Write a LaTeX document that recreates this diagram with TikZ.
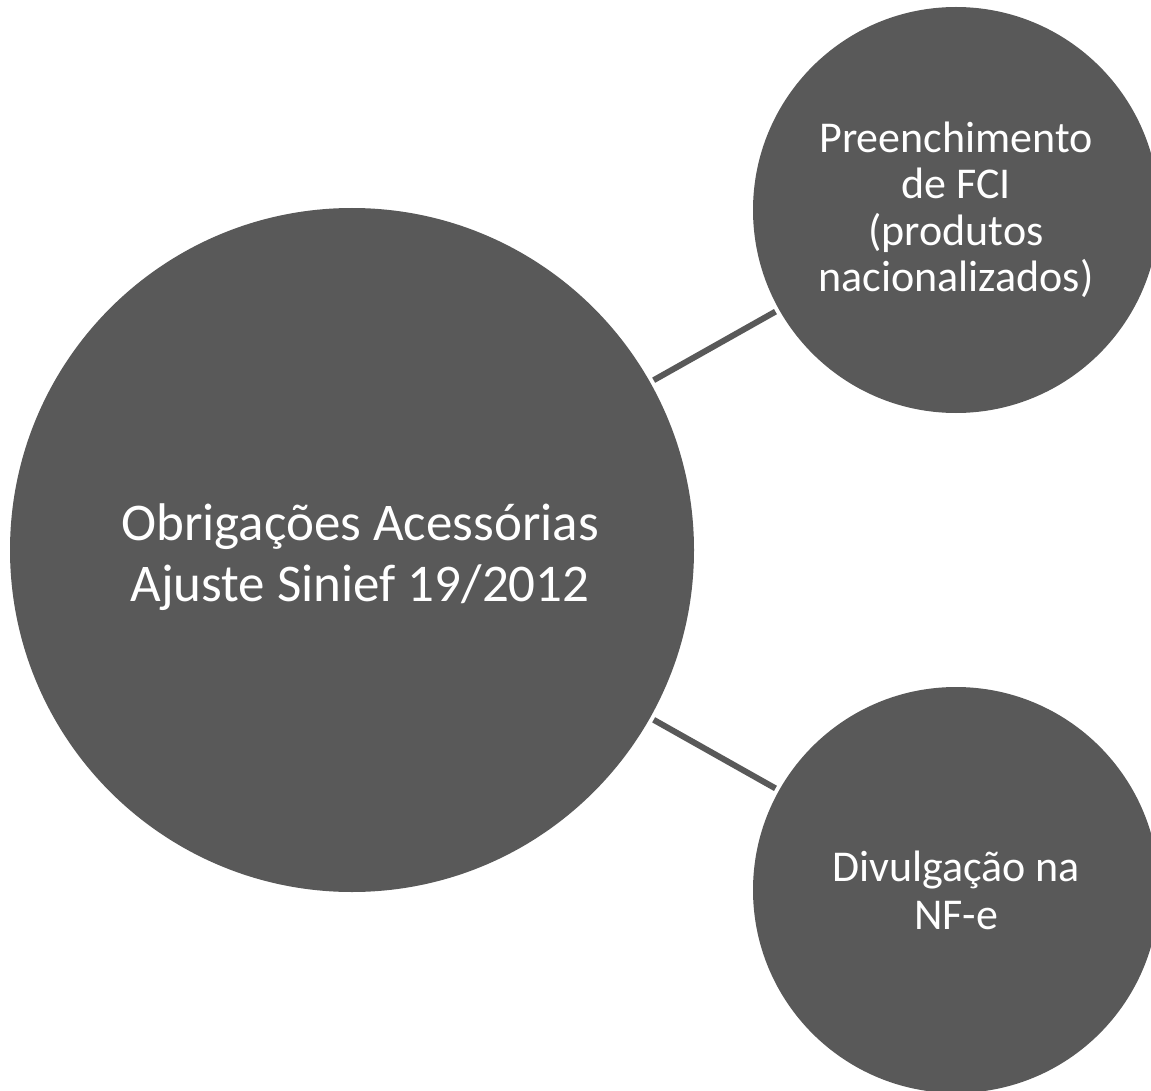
\documentclass[tikz,border=0pt]{standalone}
\usepackage{fontspec}
\setmainfont{Carlito}
\usepackage{tikz}
\definecolor{bubblegray}{HTML}{595959}

\begin{document}
\begin{tikzpicture}[x=1pt,y=-1pt,
		bubble/.style={circle,fill=bubblegray,text=white,inner sep=0pt,align=center},
		link/.style={draw=bubblegray,line width=6pt,shorten <=4pt,shorten >=4pt}]
		\useasboundingbox (0,0) rectangle (1151,1091);
		\clip (0,0) rectangle (1151,1091);

		%% Main circle
		\node[bubble,minimum size=684pt] (ajuste) at (352,550) {};
		\node[text=white,align=center,font=\fontsize{53}{61}\selectfont] (ajustetext)
		at ([shift={(8,7)}]ajuste.center) {Obrigações Acessórias\\Ajuste Sinief 19/2012};

		%% Obligations
		\node[bubble,minimum size=406pt,font=\fontsize{44}{46.5}\selectfont] (fci) at (956,210)
		{Preenchimento\\de FCI\\(produtos\\nacionalizados)};
		\node[bubble,minimum size=406pt,font=\fontsize{44}{48}\selectfont] (nfe) at (956,890)
		{Divulgação na\\NF-e};

		%% Links
		\draw[link] (ajuste) -- (fci);
		\draw[link] (ajuste) -- (nfe);
	\end{tikzpicture}
\end{document}
